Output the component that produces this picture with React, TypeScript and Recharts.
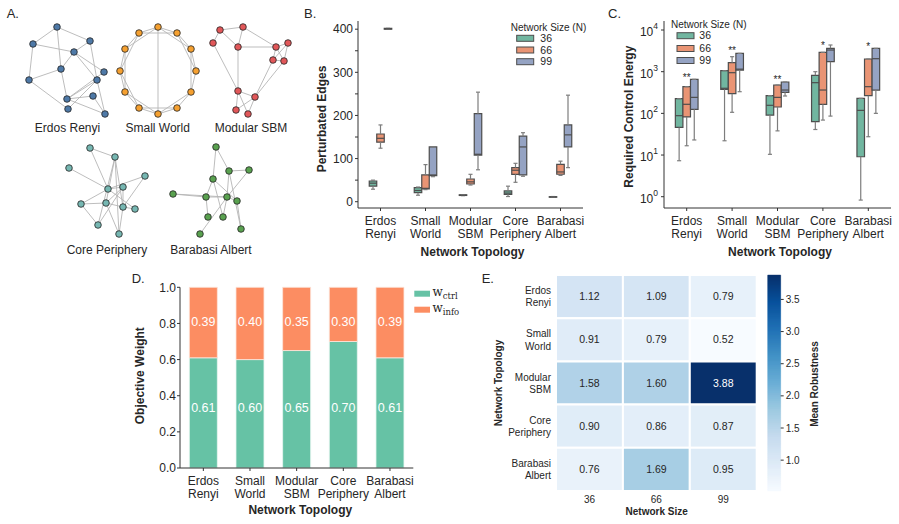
import React from 'react';
import {
  ScatterChart,
  Scatter,
  BarChart,
  Bar,
  LabelList,
  XAxis,
  YAxis,
  ReferenceArea,
  ReferenceLine,
} from 'recharts';

const FONT = '"Liberation Sans", Arial, Helvetica, sans-serif';
const INK = '#262626';
const AXIS = '#333333';

// shared categories
const topologies = ['Erdos Renyi', 'Small World', 'Modular SBM', 'Core Periphery', 'Barabasi Albert'];
const networkSizes = ['36', '66', '99'];

// A: example graphs, node layout in a 0-100 box
type Pt = [number, number];
type Link = [number, number];

const erNodes: Pt[] = [[39, 7], [15, 24], [72, 21], [56, 32], [43, 49], [86, 52], [11, 60], [79, 60], [75, 76], [49, 79], [50, 89], [87, 94]];
const erLinks: Link[] = [[0, 1], [0, 2], [0, 4], [1, 3], [1, 6], [2, 3], [2, 7], [3, 4], [3, 5], [3, 7], [4, 6], [4, 9], [6, 10], [7, 9], [7, 10], [7, 11], [9, 8], [9, 11], [5, 9], [8, 11]];

const swNodes: Pt[] = [[48, 7], [67, 13], [81, 29], [86, 51], [81, 72], [67, 88], [48, 94], [29, 88], [15, 72], [10, 51], [15, 29], [29, 13]];
const swLinks: Link[] = [[0, 1], [1, 2], [2, 3], [3, 4], [4, 5], [5, 6], [6, 7], [7, 8], [8, 9], [9, 10], [10, 11], [11, 0],
  [0, 2], [1, 3], [2, 4], [4, 6], [5, 7], [6, 8], [7, 9], [8, 10], [9, 11], [10, 0], [11, 1], [0, 6]];

const sbmNodes: Pt[] = [[15, 10], [38, 7], [8, 23], [33, 27], [71, 27], [83, 23], [68, 40], [79, 41], [33, 71], [50, 77], [31, 90], [43, 94]];
const sbmLinks: Link[] = [[0, 1], [0, 2], [0, 3], [1, 3], [1, 4], [3, 4], [4, 5], [4, 6], [4, 7], [5, 6], [5, 7], [6, 7],
  [3, 8], [2, 8], [8, 9], [8, 10], [8, 11], [9, 10], [9, 11], [6, 9], [7, 9]];

const cpNodes: Pt[] = [[30, 8], [55, 17], [9, 28], [85, 36], [48, 49], [63, 47], [21, 64], [46, 63], [63, 67], [75, 69], [38, 85], [59, 94]];
const cpLinks: Link[] = [[0, 1], [0, 4], [2, 4], [1, 7], [1, 10], [1, 11], [1, 8], [3, 4], [3, 8], [4, 5], [4, 9], [5, 8],
  [5, 7], [5, 10], [6, 7], [6, 10], [7, 8], [7, 11], [8, 9], [8, 11], [4, 6]];

const baNodes: Pt[] = [[51, 7], [64, 31], [84, 30], [48, 39], [8, 54], [41, 57], [62, 57], [72, 61], [43, 77], [58, 77], [76, 89], [35, 94]];
const baLinks: Link[] = [[0, 3], [0, 1], [1, 2], [1, 6], [1, 10], [3, 5], [3, 9], [3, 7], [4, 5], [4, 6], [5, 6], [5, 8],
  [6, 7], [6, 11], [6, 9], [7, 10], [2, 6]];

// B: perturbated edges per topology, [low whisker, q1, median, q3, high whisker]
type Stat = [number, number, number, number, number];
const edges36: Stat[] = [[29, 36, 43, 48, 50], [15, 21, 26, 32.5, 34], [14, 14.5, 15, 16, 16.5], [12, 17, 20, 25, 36], [10, 10.5, 11, 11.5, 12]];
const edges66: Stat[] = [[124, 138, 147, 157, 178], [28, 29.5, 31, 62, 86], [38.7, 41, 46, 52.7, 63.5], [45, 63.5, 73, 79, 89], [61, 63.6, 69, 86.7, 94]];
const edges99: Stat[] = [[400, 400, 401, 402, 402], [58, 60.5, 62, 127, 127], [74, 108, 110, 204, 254], [59, 62, 127, 152, 160], [79, 127, 155, 178, 247]];

// C: required control energy (log scale)
const energy36: Stat[] = [[7.3, 46, 88, 225, 225], [22, 377, 400, 1057, 1057], [10.4, 91, 156, 266, 266], [41, 63, 545, 817, 1000], [0.83, 9.1, 118, 229, 229]];
const energy66: Stat[] = [[16.7, 82, 165, 437, 437], [106, 297, 946, 1644, 2290], [38, 142, 242, 479, 479], [69, 165, 363, 2910, 2910], [27.5, 266, 437, 2015, 2015]];
const energy99: Stat[] = [[23, 125, 242, 655, 655], [331, 1096, 1150, 2750, 2750], [261, 319, 363, 565, 565], [86, 1738, 3310, 3630, 4370], [100, 363, 2050, 3630, 3630]];
const energyStars = ['**', '**', '**', '*', '*'];
const energyStarLevel = [832, 3700, 716, 4790, 4620];

// D: objective weights
const wCtrl = [0.61, 0.6, 0.65, 0.7, 0.61];
const wInfo = [0.39, 0.4, 0.35, 0.3, 0.39];

// E: mean robustness, rows = topologies, cols = network sizes
const robustness = [
  [1.12, 1.09, 0.79],
  [0.91, 0.79, 0.52],
  [1.58, 1.6, 3.88],
  [0.9, 0.86, 0.87],
  [0.76, 1.69, 0.95],
];
const robustTicks = [1.0, 1.5, 2.0, 2.5, 3.0, 3.5];

// colours
const set2 = ['#66c2a5', '#fc8d62', '#8da0cb'];
const boxFill = ['#71b6a0', '#e99474', '#95a3c3'];
const BOX_EDGE = '#4d4d4d';
const WHISKER = '#7d7d7d';

const bluesRamp = ['#f7fbff', '#deebf7', '#c6dbef', '#9ecae1', '#6baed6', '#4292c6', '#2171b5', '#08519c', '#08306b'];
const hexRgb = (c: string) => [1, 3, 5].map((i) => parseInt(c.slice(i, i + 2), 16));
const blues = (t: number) => {
  const p = Math.min(Math.max(t, 0), 1) * (bluesRamp.length - 1);
  const i = Math.min(Math.floor(p), bluesRamp.length - 2);
  const f = p - i;
  const a = hexRgb(bluesRamp[i]);
  const b = hexRgb(bluesRamp[i + 1]);
  return `rgb(${a.map((v, k) => Math.round(v + (b[k] - v) * f)).join(',')})`;
};
const vMin = Math.min(...robustness.flat());
const vMax = Math.max(...robustness.flat());

// colour bar is painted as thin slices of the ramp
const RAMP_STEPS = 108;
const rampSlices = Array.from({ length: RAMP_STEPS }, (_, k) => ({
  y1: vMin + ((vMax - vMin) * k) / RAMP_STEPS,
  y2: vMin + ((vMax - vMin) * (k + 1)) / RAMP_STEPS,
  fill: blues((k + 0.5) / RAMP_STEPS),
}));

// box layout in category units
const DODGE = 1 / 6;
const HALF = 1 / 12;
const CAP = 0.045;
const BOX_HALF_PX = 3.75;

const boxRows = (groups: Stat[][]) =>
  groups.flatMap((g, h) =>
    g.map((s, i) => ({ x: i + (h - 1) * DODGE, y: s[2], hue: h, lo: s[0], q1: s[1], q3: s[3], hi: s[4] }))
  );

const boxMarks = (rows: ReturnType<typeof boxRows>) =>
  rows.flatMap((r, k) => [
    <ReferenceLine key={`wl${k}`} segment={[{ x: r.x, y: r.lo }, { x: r.x, y: r.q1 }]} stroke={WHISKER} strokeWidth={1.2} ifOverflow="visible" />,
    <ReferenceLine key={`wh${k}`} segment={[{ x: r.x, y: r.q3 }, { x: r.x, y: r.hi }]} stroke={WHISKER} strokeWidth={1.2} ifOverflow="visible" />,
    <ReferenceLine key={`cl${k}`} segment={[{ x: r.x - CAP, y: r.lo }, { x: r.x + CAP, y: r.lo }]} stroke={WHISKER} strokeWidth={1.2} ifOverflow="visible" />,
    <ReferenceLine key={`ch${k}`} segment={[{ x: r.x - CAP, y: r.hi }, { x: r.x + CAP, y: r.hi }]} stroke={WHISKER} strokeWidth={1.2} ifOverflow="visible" />,
    <ReferenceArea key={`b${k}`} x1={r.x - HALF} x2={r.x + HALF} y1={r.q1} y2={r.q3} fill={boxFill[r.hue]} fillOpacity={1} stroke={BOX_EDGE} strokeWidth={1.2} ifOverflow="visible" />,
  ]);

const MedianMark = (p: any) => (
  <line x1={p.cx - BOX_HALF_PX} x2={p.cx + BOX_HALF_PX} y1={p.cy} y2={p.cy} stroke={BOX_EDGE} strokeWidth={1.2} />
);

const StarMark = (p: any) => (
  <text x={p.cx} y={p.cy} dy={5.7} textAnchor="middle" fontSize={10} fill={INK}>
    {p.payload.mark}
  </text>
);

const NoMark = () => <g />;

const TopologyTick = (p: any) => {
  const { x, y, payload } = p;
  const name: string = typeof payload.value === 'number' ? topologies[payload.value] : payload.value;
  const [l1, l2] = name.split(' ');
  return (
    <text x={x} y={y} textAnchor="middle" fontSize={12} fill={INK}>
      <tspan x={x} dy={11.7}>{l1}</tspan>
      <tspan x={x} dy={13}>{l2}</tspan>
    </text>
  );
};

const PowerTick = (p: any) => {
  const { x, y, payload } = p;
  const e = Math.round(Math.log10(payload.value));
  return (
    <text x={x} y={y} dy={6} textAnchor="end" fontSize={12} fill={INK}>
      10
      <tspan dy={-7} fontSize={8.5}>{e}</tspan>
    </text>
  );
};

function NetworkGraph({ nodes, links, color }: { nodes: Pt[]; links: Link[]; color: string }) {
  const pts = nodes.map(([x, y]) => ({ x, y }));
  return (
    <ScatterChart width={100} height={100} margin={{ top: 0, right: 0, bottom: 0, left: 0 }}>
      <XAxis type="number" dataKey="x" domain={[0, 100]} hide />
      <YAxis type="number" dataKey="y" domain={[0, 100]} reversed hide />
      {links.map(([a, b], k) => (
        <ReferenceLine key={k} segment={[pts[a], pts[b]]} stroke="#b5b5b5" strokeWidth={0.9} ifOverflow="visible" />
      ))}
      <Scatter
        data={pts}
        isAnimationActive={false}
        shape={(s: any) => <circle cx={s.cx} cy={s.cy} r={3.3} fill={color} stroke="#222" strokeWidth={0.8} />}
      />
    </ScatterChart>
  );
}

const graphs = [
  { nodes: erNodes, links: erLinks, color: '#4e79a7', left: 18, top: 20, label: [67.5, 131.5] },
  { nodes: swNodes, links: swLinks, color: '#f5a030', left: 110, top: 20, label: [157.7, 131.5] },
  { nodes: sbmNodes, links: sbmLinks, color: '#e15759', left: 205, top: 20, label: [251, 131.5] },
  { nodes: cpNodes, links: cpLinks, color: '#76b7b2', left: 60, top: 140, label: [107, 253.5] },
  { nodes: baNodes, links: baLinks, color: '#59a14f', left: 165, top: 140, label: [211, 253.5] },
];

const edgeRows = boxRows([edges36, edges66, edges99]);
const energyRows = boxRows([energy36, energy66, energy99]);
const starRows = energyStars.map((mark, i) => ({ x: i, y: energyStarLevel[i], mark }));

const weightRows = topologies.map((name, i) => ({ name, ctrl: wCtrl[i], info: wInfo[i] }));

const heatCells = robustness.flatMap((row, r) => row.map((v, c) => ({ x: c + 0.5, y: r + 0.5, r, c, v })));

// weight labels sit at fixed heights on the 0-1 axis
const CTRL_LABEL_AT = 0.335;
const INFO_LABEL_AT = 0.81;

const WeightLabel = (which: 'ctrl' | 'info') => (p: any) => {
  const vb = p.viewBox ?? p;
  const x = vb.x ?? p.x;
  const y = vb.y ?? p.y;
  const width = vb.width ?? p.width;
  const height = vb.height ?? p.height;
  const value = Number(p.value);
  const ppu = height / value;
  const cy = which === 'ctrl' ? y + height - CTRL_LABEL_AT * ppu : y + (1 - INFO_LABEL_AT) * ppu;
  return (
    <text x={x + width / 2} y={cy} dy={4.3} textAnchor="middle" fontSize={12.5} fill="#fff">
      {value.toFixed(2)}
    </text>
  );
};

const RowTick = (p: any) => {
  const { x, y, payload } = p;
  const [a, b] = topologies[Math.floor(payload.value)].split(' ');
  return (
    <text x={x} y={y} textAnchor="end" fontSize={10} fill={INK}>
      <tspan x={x} dy={-2.4}>{a}</tspan>
      <tspan x={x} dy={12.2}>{b}</tspan>
    </text>
  );
};

const SizeTick = (p: any) => (
  <text x={p.x} y={p.y} dy={8} textAnchor="middle" fontSize={10} fill={INK}>
    {networkSizes[Math.floor(p.payload.value)]}
  </text>
);

const CellText = (p: any) => (
  <text x={p.cx} y={p.cy} dy={3.6} textAnchor="middle" fontSize={10.5} fill={p.payload.v > 3 ? '#fff' : INK}>
    {p.payload.v.toFixed(2)}
  </text>
);

const Abs = ({ left, top, children }: { left: number; top: number; children: React.ReactNode }) => (
  <div style={{ position: 'absolute', left, top }}>{children}</div>
);

const AxisTitle = ({ x, y, text, size = 12, rotate = false }: { x: number; y: number; text: string; size?: number; rotate?: boolean }) =>
  rotate ? (
    <text transform={`translate(${x},${y}) rotate(-90)`} textAnchor="middle" dominantBaseline="central" fontSize={size} fontWeight={700} fill={INK}>
      {text}
    </text>
  ) : (
    <text x={x} y={y} textAnchor="middle" fontSize={size} fontWeight={700} fill={INK}>
      {text}
    </text>
  );

const SizeLegend = ({ x, titleY, rows, textX }: { x: number; titleY: number; rows: number[]; textX: number }) => (
  <g>
    <text x={x - 6} y={titleY} fontSize={10} fill={INK}>Network Size (N)</text>
    {networkSizes.map((s, h) => (
      <g key={s}>
        <rect x={x} y={rows[h] - 3} width={17} height={6} fill={boxFill[h]} stroke={BOX_EDGE} strokeWidth={1} />
        <text x={textX} y={rows[h] + 3.6} fontSize={10.5} fill={INK}>{s}</text>
      </g>
    ))}
  </g>
);

export default function App() {
  const axisTick = { fontSize: 12, fill: INK };
  return (
    <div style={{ position: 'absolute', left: 0, top: 0, width: 899, height: 524, background: '#fff', fontFamily: FONT, overflow: 'hidden' }}>
      {graphs.map((g, i) => (
        <Abs key={i} left={g.left} top={g.top}>
          <NetworkGraph nodes={g.nodes} links={g.links} color={g.color} />
        </Abs>
      ))}

      {/* B: perturbated edges */}
      <Abs left={300} top={0}>
        <ScatterChart width={300} height={270} margin={{ top: 21, right: 17, bottom: 0, left: 0 }}>
          <XAxis type="number" dataKey="x" domain={[-0.5, 4.5]} ticks={[0, 1, 2, 3, 4]} interval={0} allowDataOverflow
            height={62} tick={<TopologyTick />} tickSize={3} tickMargin={2} stroke={AXIS} />
          <YAxis type="number" dataKey="y" domain={[-14.6, 419]} ticks={[0, 50, 100, 150, 200, 250, 300, 350, 400]} interval={0}
            allowDataOverflow width={58} tick={axisTick} tickSize={3} tickMargin={2} stroke={AXIS}
            tickFormatter={(v: number) => (v % 100 === 0 ? String(v) : '')} />
          {boxMarks(edgeRows)}
          <Scatter data={edgeRows} shape={MedianMark} isAnimationActive={false} />
        </ScatterChart>
      </Abs>

      {/* C: control energy */}
      <Abs left={600} top={0}>
        <ScatterChart width={299} height={270} margin={{ top: 21, right: 8, bottom: 0, left: 0 }}>
          <XAxis type="number" dataKey="x" domain={[-0.5, 4.5]} ticks={[0, 1, 2, 3, 4]} interval={0} allowDataOverflow
            height={62} tick={<TopologyTick />} tickSize={3} tickMargin={2} stroke={AXIS} />
          <YAxis type="number" dataKey="y" scale="log" domain={[0.536, 16450]} ticks={[1, 10, 100, 1000, 10000]} interval={0}
            allowDataOverflow width={64} tick={<PowerTick />} tickSize={3} tickMargin={3} stroke={AXIS} />
          {boxMarks(energyRows)}
          <Scatter data={energyRows} shape={MedianMark} isAnimationActive={false} />
          <Scatter data={starRows} shape={StarMark} isAnimationActive={false} />
        </ScatterChart>
      </Abs>

      {/* D: objective weights */}
      <Abs left={130} top={270}>
        <BarChart width={300} height={254} data={weightRows} margin={{ top: 17.3, right: 16.7, bottom: 0, left: 0 }} barCategoryGap="20%">
          <XAxis dataKey="name" height={56} tick={<TopologyTick />} tickSize={3} tickMargin={2} stroke={AXIS} interval={0} />
          <YAxis type="number" domain={[0, 1]} ticks={[0, 0.2, 0.4, 0.6, 0.8, 1.0]} interval={0} width={50}
            tick={axisTick} tickSize={3} tickMargin={1} stroke={AXIS} tickFormatter={(v: number) => v.toFixed(1)} />
          <Bar dataKey="ctrl" stackId="w" fill={set2[0]} stroke="#eaf6f1" strokeWidth={0.8} isAnimationActive={false}>
            <LabelList dataKey="ctrl" content={WeightLabel('ctrl')} />
          </Bar>
          <Bar dataKey="info" stackId="w" fill={set2[1]} stroke="#fde6dc" strokeWidth={0.8} isAnimationActive={false}>
            <LabelList dataKey="info" content={WeightLabel('info')} />
          </Bar>
        </BarChart>
      </Abs>

      {/* E: robustness heatmap */}
      <Abs left={470} top={270}>
        <ScatterChart width={300} height={254} margin={{ top: 5, right: 13.3, bottom: 0, left: 0 }}>
          <XAxis type="number" dataKey="x" domain={[0, 3]} ticks={[0.5, 1.5, 2.5]} interval={0} height={33}
            axisLine={false} tickLine={false} tickSize={0} tickMargin={4} tick={<SizeTick />} />
          <YAxis type="number" dataKey="y" domain={[0, 5]} reversed ticks={[0.5, 1.5, 2.5, 3.5, 4.5]} interval={0} width={86}
            axisLine={false} tickLine={false} tickSize={0} tickMargin={5} tick={<RowTick />} />
          {heatCells.map((cell, k) => (
            <ReferenceArea key={k} x1={cell.c} x2={cell.c + 1} y1={cell.r} y2={cell.r + 1}
              fill={blues((cell.v - vMin) / (vMax - vMin))} fillOpacity={1} stroke="#fff" strokeWidth={2} ifOverflow="visible" />
          ))}
          <Scatter data={heatCells} shape={CellText} isAnimationActive={false} />
        </ScatterChart>
      </Abs>

      {/* E: colour bar */}
      <Abs left={760} top={270}>
        <ScatterChart width={80} height={254} margin={{ top: 5, right: 19.3, bottom: 33, left: 7.7 }}>
          <XAxis type="number" dataKey="x" domain={[0, 1]} hide />
          <YAxis type="number" dataKey="y" orientation="right" domain={[vMin, vMax]} ticks={robustTicks} interval={0} width={40}
            allowDataOverflow axisLine={false} tickSize={3} tickMargin={2} stroke={AXIS}
            tick={{ fontSize: 10, fill: INK }} tickFormatter={(v: number) => v.toFixed(1)} />
          {rampSlices.map((s, k) => (
            <ReferenceArea key={k} x1={0} x2={1} y1={s.y1} y2={s.y2} fill={s.fill} fillOpacity={1} stroke={s.fill} strokeWidth={0.4} ifOverflow="visible" />
          ))}
          <Scatter data={robustTicks.map((t) => ({ x: 1, y: t }))} shape={NoMark} isAnimationActive={false} />
        </ScatterChart>
      </Abs>

      <svg width={899} height={524} style={{ position: 'absolute', left: 0, top: 0, pointerEvents: 'none' }}>
        <g fontSize={13} fill={INK}>
          <text x={6.7} y={18.3}>A.</text>
          <text x={304} y={18.3}>B.</text>
          <text x={608} y={18.3}>C.</text>
          <text x={131.7} y={283.3}>D.</text>
          <text x={481.7} y={283.3}>E.</text>
        </g>

        {graphs.map((g, i) => (
          <text key={i} x={g.label[0]} y={g.label[1]} textAnchor="middle" fontSize={12} fill={INK}>{topologies[i]}</text>
        ))}

        <AxisTitle x={321.7} y={119} text="Perturbated Edges" rotate />
        <AxisTitle x={472.5} y={256} text="Network Topology" />
        <SizeLegend x={516.7} titleY={30.5} rows={[38.3, 50, 61.7]} textX={540.3} />

        <AxisTitle x={628.7} y={116.7} text="Required Control Energy" rotate />
        <AxisTitle x={780} y={256} text="Network Topology" />
        <SizeLegend x={677} titleY={28.3} rows={[35.7, 48.5, 60.5]} textX={699.3} />

        <AxisTitle x={140} y={375.7} text="Objective Weight" rotate />
        <AxisTitle x={300.3} y={513.5} text="Network Topology" />
        <g fontFamily='"DejaVu Serif", "Liberation Serif", serif' fill={INK}>
          <rect x={414.3} y={290.7} width={15.7} height={6} fill={set2[0]} />
          <text x={432.5} y={296.3} fontSize={12}>w<tspan dy={2.3} fontSize={8.5}>ctrl</tspan></text>
          <rect x={414.3} y={306.7} width={15.7} height={6} fill={set2[1]} />
          <text x={432.5} y={312.3} fontSize={12}>w<tspan dy={2.3} fontSize={8.5}>info</tspan></text>
        </g>

        <AxisTitle x={498} y={383} text="Network Topology" size={10} rotate />
        <AxisTitle x={656.7} y={515} text="Network Size" size={10} />
        <AxisTitle x={814} y={384} text="Mean Robustness" size={10} rotate />
      </svg>
    </div>
  );
}
